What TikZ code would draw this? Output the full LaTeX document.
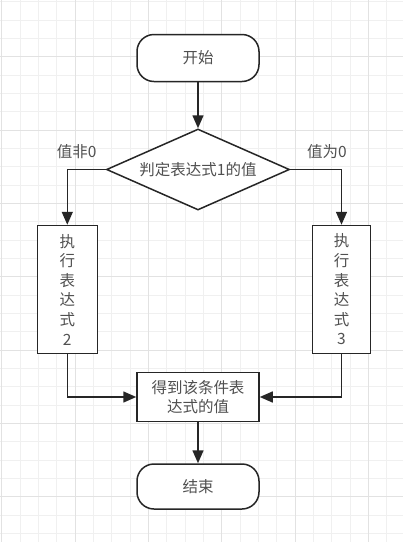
\documentclass[tikz,border=0pt]{standalone}
\usepackage{fontspec}
\setmainfont{Noto Sans CJK SC}
\usepackage{xcolor}
\definecolor{fcline}{RGB}{38,38,38}
\definecolor{fctext}{RGB}{80,80,80}
\definecolor{fcgrid}{RGB}{240,240,240}
\definecolor{fcgridmaj}{RGB}{226,226,226}
\usepackage{tikz}
\usetikzlibrary{arrows.meta,positioning,shapes.geometric}
\tikzset{
  term/.style={draw=fcline,line width=1.5pt,rounded corners=17pt,align=center,fill=white,
    minimum width=122pt,minimum height=47pt,text=fctext,font=\fontsize{15.5}{19.6}\selectfont},
  proc/.style={draw=fcline,line width=1.5pt,align=center,fill=white,inner sep=2pt,
    text=fctext,font=\fontsize{15.5}{19.6}\selectfont},
  cond/.style={draw=fcline,line width=1.5pt,diamond,aspect=2.26,inner sep=0pt,fill=white,
    minimum width=183pt,minimum height=81pt,text=fctext,font=\fontsize{15.5}{19.6}\selectfont},
  flow/.style={-{Triangle[length=13pt,width=11pt]},draw=fcline,line width=1.5pt},
  tag/.style={text=fctext,font=\fontsize{15.5}{19.6}\selectfont},
  minorgrid/.style={draw=fcgrid,line width=0.8pt},
  majorgrid/.style={draw=fcgridmaj,line width=0.9pt},
}

\begin{document}
\begin{tikzpicture}[x=1pt,y=-1pt,node distance=40pt]
\useasboundingbox (0,0) rectangle (403,542);
\fill[white] (0,0) rectangle (403,542);
% grid
\foreach \k in {0,...,22} \draw[minorgrid] ({1.7+18.33*\k},0) -- ++(0,542);
\foreach \k in {0,...,29} \draw[minorgrid] (0,{1.7+18.33*\k}) -- ++(403,0);
\foreach \k in {0,4,...,20} \draw[majorgrid] ({1.7+18.33*\k},0) -- ++(0,542);
\foreach \k in {3,7,...,27} \draw[majorgrid] (0,{1.7+18.33*\k}) -- ++(403,0);
% nodes
\node[term] (start) at (198,58) {开始};
\node[cond,below=46pt of start] (judge) {判定表达式1的值};
\node[proc,minimum width=60pt,minimum height=128pt] (expr2) at (67.3,289.5) {执\\行\\表\\达\\式\\2};
\node[proc,minimum width=58pt,minimum height=128pt] (expr3) at (341.5,289.5) {执\\行\\表\\达\\式\\3};
\node[proc,minimum width=122pt,minimum height=49pt] (result) at (198,397) {得到该条件表\\达式的值};
\node[term,minimum height=45pt,below=41pt of result] (stop) {结束};
% flows
\draw[flow] (start) -- (judge);
\draw[flow] (judge.west) -| node[tag,pos=0.377,above=7pt] (nonzero) {值非0} (expr2.north);
\draw[flow] (judge.east) -| node[tag,pos=0.358,above=7pt] (zero) {值为0} (expr3.north);
\draw[flow] (expr2.south) |- (result.west);
\draw[flow] (expr3.south) |- (result.east);
\draw[flow] (result) -- (stop);
\end{tikzpicture}
\end{document}
